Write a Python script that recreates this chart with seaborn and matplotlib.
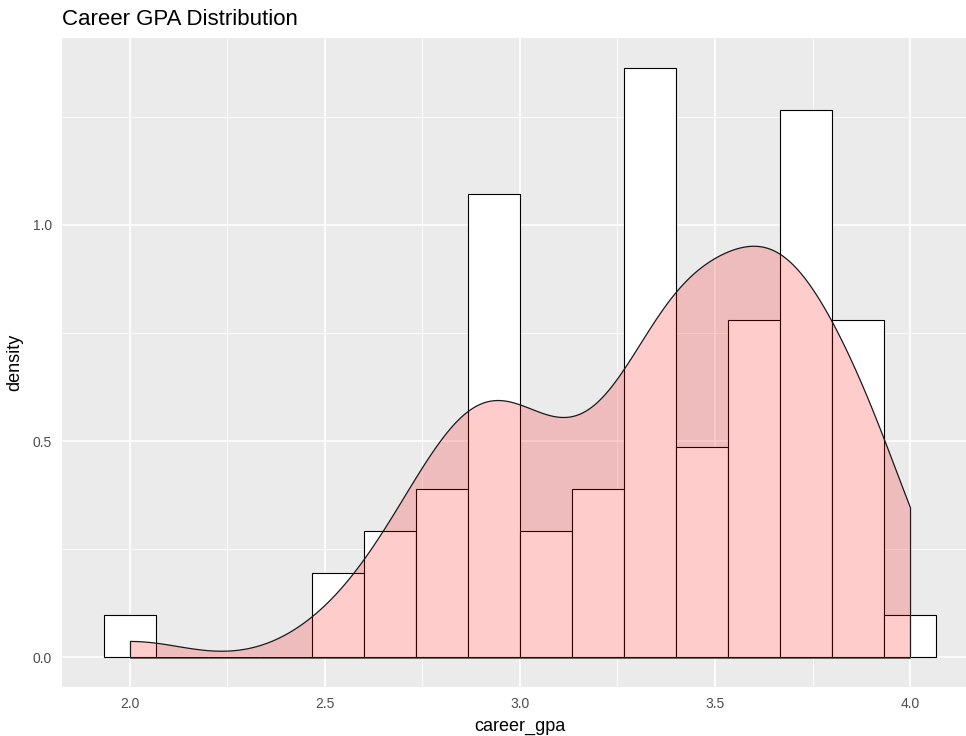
import numpy as np
import pandas as pd
import matplotlib
matplotlib.use("Agg")
import matplotlib.pyplot as plt
import seaborn as sns

# career GPA values (one decimal) - 77 students
gpa_values = [2.0, 2.5, 2.6, 2.7, 2.8, 2.9, 3.0, 3.1, 3.2, 3.3,
              3.4, 3.5, 3.6, 3.7, 3.8, 3.9, 4.0]
gpa_counts = [1, 1, 1, 3, 4, 6, 5, 3, 4, 4,
              10, 5, 8, 10, 3, 8, 1]

df = pd.DataFrame({'career_gpa': np.repeat(gpa_values, gpa_counts)})

# bins like ggplot: centred on 2.0, width 2/15, right-closed
binwidth = 2.0 / 15
eps = 1e-6
binrange = (2.0 - binwidth / 2 + eps, 4.0 + binwidth / 2 + eps)

# R bw.nrd0 rule expressed as seaborn bw_adjust (slightly narrowed)
x = df['career_gpa']
sd = x.std()
iqr = x.quantile(0.75) - x.quantile(0.25)
bw_adj = 0.87 * 0.9 * min(sd, iqr / 1.34) / sd

sns.set_theme(style='darkgrid')
plt.rcParams['font.family'] = ['Liberation Sans', 'DejaVu Sans']

fig = plt.figure(figsize=(9.66, 7.36), dpi=100)
ax = fig.add_axes([0.0646, 0.0666, 0.9474, 0.8818])
ax.set_facecolor('#EBEBEB')

sns.histplot(data=df, x='career_gpa', stat='density', binwidth=binwidth,
             binrange=binrange, color='white', edgecolor='black',
             linewidth=0.8, alpha=1, ax=ax, zorder=3)
sns.kdeplot(data=df, x='career_gpa', fill=True, cut=0, bw_adjust=bw_adj,
            gridsize=400, ax=ax, zorder=4)
poly = ax.collections[-1]
poly.set_alpha(None)
poly.set_facecolor((1, 0, 0, 0.2))
poly.set_edgecolor((0.1, 0.1, 0.1, 1))
poly.set_linewidth(0.9)

ax.set_xlim(1.8267, 4.1733)
ax.set_ylim(-0.0682, 1.432)
ax.set_xticks([2.0, 2.5, 3.0, 3.5, 4.0])
ax.set_xticks([2.25, 2.75, 3.25, 3.75], minor=True)
ax.set_yticks([0.0, 0.5, 1.0])
ax.set_yticks([0.25, 0.75, 1.25], minor=True)
ax.set_xticklabels(['2.0', '2.5', '3.0', '3.5', '4.0'])
ax.set_yticklabels(['0.0', '0.5', '1.0'])

ax.grid(which='major', color='white', linewidth=1.2)
ax.grid(which='minor', color='white', linewidth=0.6)
ax.set_axisbelow(True)
for s in ax.spines.values():
    s.set_visible(False)

ax.tick_params(axis='both', which='major', length=3.5, width=0.9,
               color='#333333', labelcolor='#4D4D4D', labelsize=10, pad=4)
ax.tick_params(axis='both', which='minor', length=0)

ax.set_xlabel('career_gpa', fontsize=13, color='black', labelpad=5)
ax.set_ylabel('density', fontsize=13, color='black', labelpad=7)
ax.set_title('Career GPA Distribution', loc='left', fontsize=16,
             color='black', pad=9)

fig.savefig('out.png', dpi=100)
